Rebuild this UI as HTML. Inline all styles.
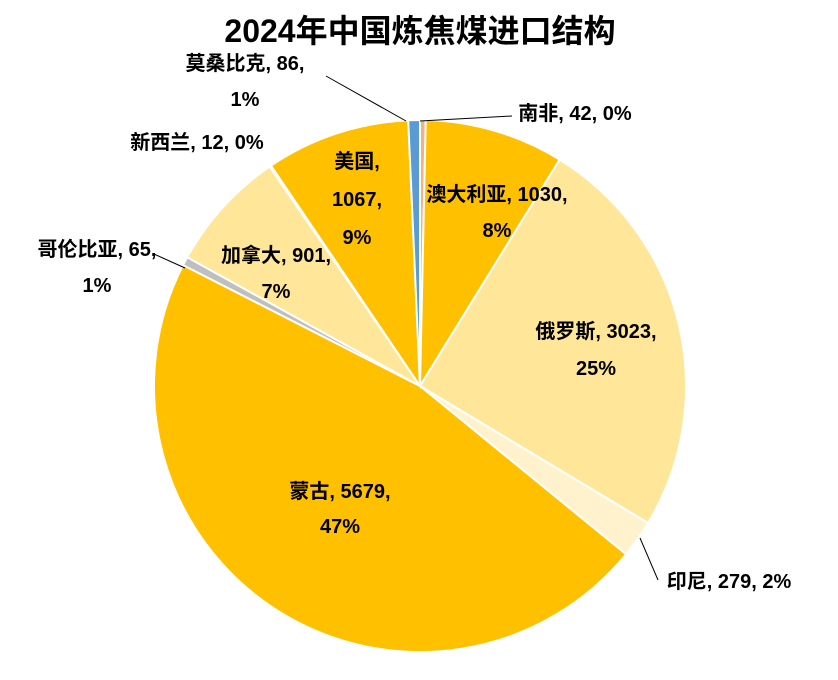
<!DOCTYPE html>
<html><head><meta charset="utf-8"><style>
body{margin:0;background:#fff;}
svg text{font-family:"Liberation Sans","Noto Sans CJK SC",sans-serif;font-weight:bold;fill:#000;}
</style></head><body>
<svg id="s" width="838" height="675" xmlns="http://www.w3.org/2000/svg">
<rect width="838" height="675" fill="#fff"/>
<text x="420" y="42" font-size="32" text-anchor="middle">2024年中国炼焦煤进口结构</text>
<g id="pie"></g>
<g font-size="20" text-anchor="middle">
<text x="575" y="120">南非, 42, 0%</text>
<text x="497" y="201">澳大利亚, 1030,</text><text x="497" y="237">8%</text>
<text x="596" y="338">俄罗斯, 3023,</text><text x="596" y="375">25%</text>
<text x="729" y="588">印尼, 279, 2%</text>
<text x="340" y="498">蒙古, 5679,</text><text x="340" y="533">47%</text>
<text x="97" y="256">哥伦比亚, 65,</text><text x="97" y="292">1%</text>
<text x="276" y="262">加拿大, 901,</text><text x="276" y="298">7%</text>
<text x="197" y="149">新西兰, 12, 0%</text>
<text x="357" y="168">美国,</text><text x="357" y="206">1067,</text><text x="357" y="244">9%</text>
<text x="245" y="70">莫桑比克, 86,</text><text x="245" y="106">1%</text>
</g>
<g stroke="#000" stroke-width="1">
<line x1="512" y1="116" x2="420" y2="121"/>
<line x1="326" y1="76" x2="406" y2="121"/>
<line x1="154" y1="254" x2="185" y2="268"/>
<line x1="658" y1="580" x2="640" y2="538"/>
</g>
</svg>
<script>
var d=[[42,"#F4B183"],[1030,"#FFC000"],[3023,"#FFE699"],[279,"#FFF2CC"],[5679,"#FFC000"],[65,"#BFBFBF"],[901,"#FFE699"],[12,"#FFF2CC"],[1067,"#FFC000"],[86,"#5B9BD5"]];
var t=0;d.forEach(function(x){t+=x[0]});
var cx=420,cy=386,r=266,a=0,h="";
d.forEach(function(x){var b=a+x[0]/t*2*Math.PI;
var x1=cx+r*Math.sin(a),y1=cy-r*Math.cos(a),x2=cx+r*Math.sin(b),y2=cy-r*Math.cos(b);
h+='<path d="M'+cx+','+cy+'L'+x1+','+y1+'A'+r+','+r+' 0 '+(b-a>Math.PI?1:0)+',1 '+x2+','+y2+'Z" fill="'+x[1]+'" stroke="#fff" stroke-width="2"/>';a=b;});
document.getElementById("pie").innerHTML=h;
</script>
</body></html>
